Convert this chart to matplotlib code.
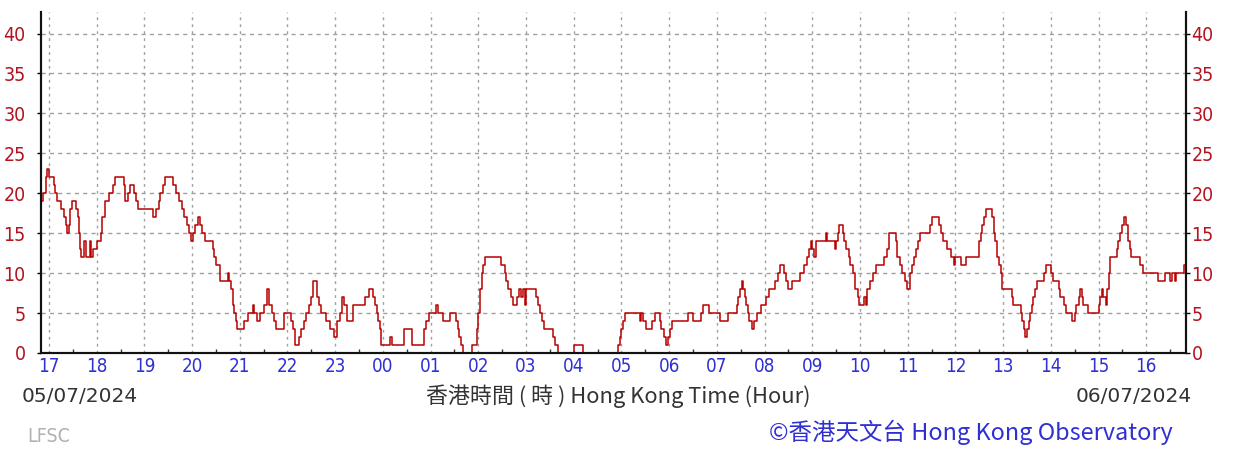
import matplotlib
matplotlib.use('Agg')
import matplotlib.pyplot as plt
from matplotlib import font_manager
import numpy as np

# wind speed trace, minutes after 17:00 on 05/07/2024 -> value
minutes = [-10, -7, -4, -2, 0, 6, 8, 10, 15, 19, 21, 23, 25, 27, 29, 34, 36, 38, 39, 40,
           44, 46, 51, 53, 56, 61, 65, 67, 70, 75, 79, 81, 83, 94, 96, 99, 102, 107, 110, 112,
           131, 135, 138, 140, 143, 146, 156, 160, 164, 167, 170, 173, 176, 179, 181, 184, 187, 190, 193, 196,
           206, 208, 210, 215, 225, 227, 229, 231, 233, 235, 237, 245, 250, 256, 258, 262, 265, 271, 274, 277,
           280, 283, 285, 296, 304, 307, 309, 315, 317, 321, 323, 327, 330, 332, 337, 339, 342, 348, 354, 359,
           362, 366, 368, 371, 375, 383, 398, 403, 408, 410, 412, 414, 416, 418, 429, 432, 446, 457, 472, 474,
           478, 487, 489, 495, 505, 512, 514, 516, 518, 521, 532, 538, 540, 542, 544, 546, 548, 568, 573, 575,
           577, 581, 584, 589, 591, 594, 596, 599, 600, 613, 615, 618, 620, 622, 634, 636, 640, 660, 672, 716,
           718, 720, 722, 724, 743, 745, 747, 751, 759, 762, 768, 770, 773, 776, 778, 781, 783, 804, 810, 820,
           823, 830, 844, 854, 865, 867, 869, 871, 873, 875, 877, 879, 881, 884, 887, 890, 896, 902, 905, 913,
           917, 919, 925, 927, 930, 935, 944, 950, 953, 956, 958, 960, 962, 965, 977, 979, 988, 990, 992, 994,
           998, 1000, 1003, 1006, 1008, 1011, 1014, 1017, 1019, 1025, 1027, 1029, 1033, 1036, 1040, 1050, 1054, 1056, 1065, 1067,
           1070, 1073, 1076, 1079, 1083, 1086, 1088, 1091, 1093, 1096, 1108, 1111, 1119, 1122, 1125, 1129, 1134, 1138, 1140, 1147,
           1153, 1170, 1172, 1174, 1176, 1178, 1186, 1188, 1190, 1192, 1195, 1197, 1199, 1211, 1213, 1222, 1224, 1226, 1228, 1230,
           1232, 1234, 1236, 1238, 1240, 1243, 1251, 1254, 1260, 1263, 1270, 1272, 1276, 1279, 1286, 1290, 1292, 1295, 1297, 1299,
           1301, 1307, 1320, 1322, 1324, 1326, 1329, 1331, 1333, 1335, 1343, 1345, 1347, 1349, 1352, 1355, 1357, 1359, 1361, 1372,
           1376, 1395, 1403, 1410, 1413, 1416, 1418, 1428, 1430]
speed = [19, 20, 22, 23, 22, 21, 20, 19, 18, 17, 16, 15, 16, 18, 19, 18, 17, 15, 13, 12,
         14, 12, 14, 12, 13, 14, 15, 17, 19, 20, 20, 21, 22, 21, 19, 20, 21, 20, 19, 18,
         17, 18, 19, 20, 21, 22, 21, 20, 19, 18, 17, 16, 15, 14, 15, 16, 17, 16, 15, 14,
         13, 12, 11, 9, 10, 9, 8, 6, 5, 4, 3, 4, 5, 6, 5, 4, 5, 6, 8, 6,
         5, 4, 3, 5, 4, 3, 1, 2, 3, 4, 5, 6, 7, 9, 7, 6, 5, 4, 3, 2,
         4, 5, 7, 6, 4, 6, 7, 8, 7, 6, 5, 4, 3, 1, 2, 1, 3, 1, 3, 4,
         5, 6, 5, 4, 5, 4, 3, 2, 1, 0, 1, 3, 5, 8, 10, 11, 12, 11, 10, 9,
         8, 7, 6, 7, 8, 7, 8, 6, 8, 7, 6, 5, 4, 3, 2, 1, 0, 1, 0, 1,
         2, 3, 4, 5, 4, 5, 4, 3, 4, 5, 4, 3, 2, 1, 2, 3, 4, 5, 4, 5,
         6, 5, 4, 5, 6, 7, 8, 9, 8, 7, 6, 5, 4, 3, 4, 5, 6, 7, 8, 9,
         10, 11, 10, 9, 8, 9, 10, 11, 12, 13, 14, 13, 12, 14, 15, 14, 13, 14, 15, 16,
         15, 14, 13, 12, 11, 10, 8, 7, 6, 7, 6, 8, 9, 10, 11, 12, 13, 15, 14, 12,
         11, 10, 9, 8, 10, 11, 12, 13, 14, 15, 16, 17, 16, 15, 14, 13, 12, 11, 12, 11,
         12, 14, 15, 16, 17, 18, 17, 15, 14, 12, 11, 10, 8, 7, 6, 5, 4, 3, 2, 3,
         4, 5, 6, 7, 8, 9, 10, 11, 10, 9, 8, 7, 6, 5, 4, 5, 6, 7, 8, 7,
         6, 5, 6, 7, 8, 7, 6, 8, 10, 12, 13, 14, 15, 16, 17, 16, 14, 13, 12, 11,
         10, 9, 10, 9, 10, 9, 10, 11, 11]

hour_ticks = list(range(0, 1440, 60))
hour_labels = ['17', '18', '19', '20', '21', '22', '23', '00', '01', '02', '03', '04',
               '05', '06', '07', '08', '09', '10', '11', '12', '13', '14', '15', '16']
y_ticks = [0, 5, 10, 15, 20, 25, 30, 35, 40]

available = {f.name for f in font_manager.fontManager.ttflist}
narrow = 'Liberation Sans Narrow' if 'Liberation Sans Narrow' in available else 'DejaVu Sans'
cjk = ['Noto Sans CJK TC', 'DejaVu Sans']

red = '#b5131f'
blue = '#2f2fd2'
grid_c = '#a0a0a0'

fig = plt.figure(figsize=(12.47, 4.5), dpi=100)
ax = fig.add_axes([41 / 1247, 97 / 450, 1145 / 1247, 341 / 450])

ax.step(minutes, speed, where='post', color='#b80000', lw=1.1, zorder=3)

ax.set_xlim(-10, 1430)
ax.set_ylim(0, 42.7)

ax.set_xticks(hour_ticks)
ax.set_xticklabels(hour_labels, color=blue, fontsize=13.5, family=narrow, stretch='condensed')
ax.set_xticks(np.arange(30, 1440, 60), minor=True)
ax.tick_params(axis='x', which='major', length=0, pad=3)
ax.tick_params(axis='x', which='minor', direction='in', length=3, width=1, color='#333333')

ax.set_yticks(y_ticks)
ax.set_yticklabels([str(v) for v in y_ticks], color=red, fontsize=14, family=narrow,
                   stretch='condensed')
ax.tick_params(axis='y', which='major', direction='out', length=3, width=1, pad=8)

ax2 = ax.twinx()
ax2.set_ylim(0, 42.7)
ax2.set_yticks(y_ticks)
ax2.set_yticklabels([str(v) for v in y_ticks], color=red, fontsize=14, family=narrow,
                    stretch='condensed')
ax2.tick_params(axis='y', direction='out', length=3, width=1, pad=1)

for a in (ax, ax2):
    a.spines['top'].set_visible(False)
    for s in ('left', 'right', 'bottom'):
        a.spines[s].set_color('#111111')
        a.spines[s].set_linewidth(1.5)

ax.grid(axis='x', which='major', color=grid_c, linestyle=(0, (2, 3)), linewidth=1)
ax.grid(axis='y', which='major', color=grid_c, linestyle=(0, (3, 3)), linewidth=1)
ax.set_axisbelow(True)

fig.text(22 / 1247, 1 - 396 / 450, '05/07/2024', fontsize=14.5, color='#333333',
         ha='left', va='center', family='DejaVu Sans')
fig.text(1192 / 1247, 1 - 396 / 450, '06/07/2024', fontsize=14.5, color='#333333',
         ha='right', va='center', family='DejaVu Sans')
fig.text(618 / 1247, 1 - 396 / 450, '香港時間 ( 時 ) Hong Kong Time (Hour)', fontsize=15.8,
         color='#333333', ha='center', va='center', family=cjk)
fig.text(27 / 1247, 1 - 437 / 450, 'LFSC', fontsize=14, color='#b0b0b0',
         ha='left', va='center', family=narrow, stretch='condensed')
fig.text(1173 / 1247, 1 - 432 / 450, '©香港天文台 Hong Kong Observatory', fontsize=16.9,
         color=blue, ha='right', va='center', family=cjk)

fig.savefig('out.png', dpi=100)
